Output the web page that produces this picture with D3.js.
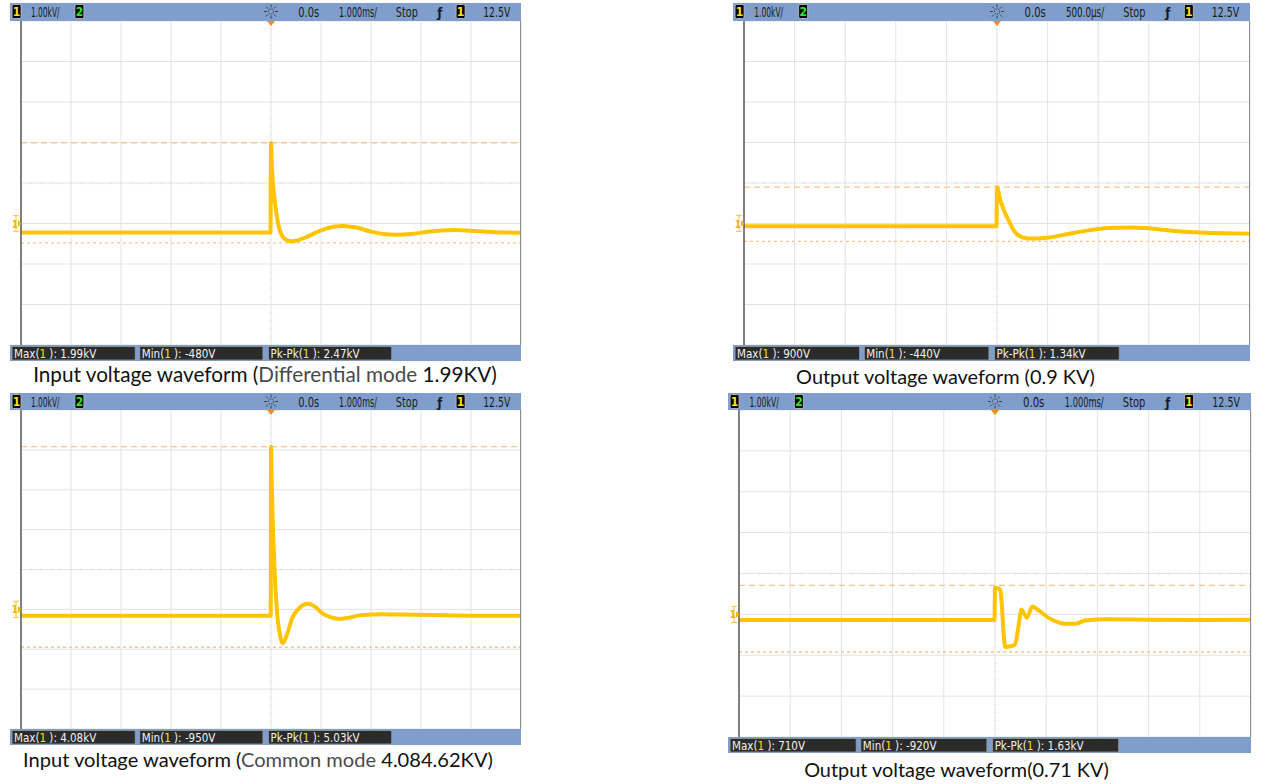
<!DOCTYPE html>
<html>
<head>
<meta charset="utf-8">
<script src="https://cdn.jsdelivr.net/npm/d3@7/dist/d3.min.js"></script>
<style>
  html, body { margin: 0; padding: 0; background: #ffffff; }
  svg { display: block; }
</style>
</head>
<body>
<svg id="chart" width="1261" height="784"></svg>
<script>
// ---------------- DATA ----------------
// Panel 1: input, differential mode (time in ms, voltage in kV)
const p1Time = [-5, -0.01, 0, 0.02, 0.05, 0.08, 0.12, 0.16, 0.22, 0.3, 0.42, 0.55, 0.75, 1.0, 1.25, 1.45, 1.7, 2.0, 2.25, 2.5, 2.8, 3.1, 3.4, 3.7, 4.0, 4.4, 5];
const p1Volt = [-0.22, -0.22, 1.99, 1.35, 0.85, 0.5, 0.15, -0.1, -0.3, -0.4, -0.44, -0.41, -0.31, -0.17, -0.08, -0.06, -0.1, -0.2, -0.26, -0.28, -0.26, -0.21, -0.17, -0.16, -0.18, -0.21, -0.23];
// Panel 2: output (0.9 kV)
const p2Time = [-2.5, -0.005, 0, 0.03, 0.06, 0.09, 0.13, 0.16, 0.2, 0.25, 0.32, 0.4, 0.5, 0.7, 0.9, 1.1, 1.3, 1.5, 1.7, 2.0, 2.25, 2.5];
const p2Volt = [-0.07, -0.07, 0.9, 0.6, 0.38, 0.2, 0.0, -0.15, -0.27, -0.34, -0.37, -0.37, -0.35, -0.26, -0.17, -0.11, -0.1, -0.12, -0.17, -0.22, -0.24, -0.25];
// Panel 3: input, common mode
const p3Time = [-5, -0.005, 0, 0.015, 0.03, 0.05, 0.066, 0.09, 0.13, 0.18, 0.23, 0.3, 0.43, 0.58, 0.73, 0.88, 1.03, 1.2, 1.37, 1.55, 1.77, 2.0, 2.23, 2.6, 3.5, 4.2, 5];
const p3Volt = [-0.16, -0.16, 4.08, 3.2, 2.4, 1.7, 1.15, 0.5, -0.2, -0.65, -0.85, -0.7, -0.2, 0.05, 0.14, 0.07, -0.1, -0.2, -0.24, -0.21, -0.15, -0.13, -0.12, -0.13, -0.15, -0.16, -0.16];
// Panel 4: output (0.71 kV)
const p4Time = [-5, -0.01, 0, 0.05, 0.1, 0.13, 0.17, 0.2, 0.3, 0.38, 0.42, 0.47, 0.52, 0.57, 0.62, 0.73, 0.85, 1.04, 1.2, 1.37, 1.57, 1.76, 2.2, 3, 4, 5];
const p4Volt = [-0.14, -0.14, 0.66, 0.64, 0.6, 0.3, -0.5, -0.8, -0.78, -0.75, -0.6, -0.2, 0.12, 0.02, -0.08, 0.19, 0.1, -0.08, -0.18, -0.23, -0.23, -0.15, -0.12, -0.13, -0.14, -0.13];

// marker (cursor) levels, kV
const markerMax = [1.99, 0.9, 4.08, 0.71];
const markerMin = [-0.48, -0.44, -0.95, -0.92];

// time window (ms) of each panel
const timeStart = [-5, -2.5, -5, -5];
const timeEnd = [5, 2.5, 5, 5];
// vertical window (kV)
const voltDomain = [-3, 5];

// header texts
const vScaleLabel = ["1.00kV/", "1.00kV/", "1.00kV/", "1.00kV/"];
const delayLabel = ["0.0s", "0.0s", "0.0s", "0.0s"];
const timebaseLabel = ["1.000ms/", "500.0µs/", "1.000ms/", "1.000ms/"];
const levelLabel = ["12.5V", "12.5V", "12.5V", "12.5V"];

// measurement labels
const measMax = ["1.99kV", "900V", "4.08kV", "710V"];
const measMin = ["-480V", "-440V", "-950V", "-920V"];
const measPkPk = ["2.47kV", "1.34kV", "5.03kV", "1.63kV"];

// captions: [prefix, grey part, suffix]
const captionPre = ["Input voltage waveform (", "Output voltage waveform (0.9 KV)", "Input voltage waveform (", "Output voltage waveform(0.71 KV)"];
const captionGrey = ["Differential mode", "", "Common mode", ""];
const captionPost = [" 1.99KV)", "", " 4.084.62KV)", ""];

// ---------------- LAYOUT ----------------
const layout = [
  { hx: 10,  right: 521,  top: 3,   plotTop: 21,  plotBottom: 345, capX: 265,   capY: 382, capW: 464 },
  { hx: 733, right: 1250, top: 3,   plotTop: 21,  plotBottom: 345, capX: 945.5, capY: 384, capW: 299 },
  { hx: 10,  right: 521,  top: 393, plotTop: 410, plotBottom: 729, capX: 258,   capY: 767, capW: 470 },
  { hx: 728, right: 1251, top: 393, plotTop: 410, plotBottom: 737, capX: 956.5, capY: 777, capW: 305 }
];

const times = [p1Time, p2Time, p3Time, p4Time];
const volts = [p1Volt, p2Volt, p3Volt, p4Volt];

const BAR = "#7f9ecc";
const TRACE = "#ffc400";
const DASH = "#fbc38f";
const GRID = "#e3e3e3";
const headFont = "'Liberation Sans Narrow','DejaVu Sans Condensed','Arial Narrow',Arial,sans-serif";
const capFont = "Lato,'Open Sans','Noto Sans',sans-serif";

const svg = d3.select("#chart");

function chBox(g, x, y, label, color) {
  g.append("rect").attr("x", x).attr("y", y).attr("width", 9).attr("height", 14)
    .attr("rx", 1.5).attr("fill", "#000").attr("stroke", "#c8c8c8").attr("stroke-width", 0.8);
  g.append("text").attr("x", x + 4.5).attr("y", y + 11.5).attr("text-anchor", "middle")
    .attr("font-family", headFont).attr("font-size", 12).attr("font-weight", "bold")
    .attr("fill", color).text(label);
}

// horizontally condensed text (scaled group), keeps glyph height
function headText(g, x, y, str, len, size) {
  const grp = g.append("g").attr("transform", `translate(${x},${y})`);
  const t = grp.append("text").attr("x", 0).attr("y", 0).attr("font-family", headFont)
    .attr("font-size", size || 14).attr("fill", "#1a1a1a").text(str);
  const nat = t.node().getComputedTextLength();
  if (len && nat > 0) grp.attr("transform", `translate(${x},${y}) scale(${len / nat},1)`);
  return t;
}

layout.forEach((L, i) => {
  const g = svg.append("g");
  const w = L.right - L.hx;
  const px = L.hx + 11;

  const x = d3.scaleLinear().domain([timeStart[i], timeEnd[i]]).range([px, L.right]);
  const y = d3.scaleLinear().domain(voltDomain).range([L.plotBottom, L.plotTop]);

  // plot background
  g.append("rect").attr("x", px).attr("y", L.plotTop).attr("width", L.right - px)
    .attr("height", L.plotBottom - L.plotTop).attr("fill", "#fff");

  // grid
  const xt = d3.range(11).map(k => timeStart[i] + k * (timeEnd[i] - timeStart[i]) / 10);
  const yt = d3.range(voltDomain[0], voltDomain[1] + 1, 1);
  g.selectAll(".vg").data(xt).enter().append("line")
    .attr("x1", d => x(d)).attr("x2", d => x(d)).attr("y1", L.plotTop).attr("y2", L.plotBottom)
    .attr("stroke", GRID).attr("stroke-width", 1);
  g.selectAll(".hg").data(yt).enter().append("line")
    .attr("x1", px).attr("x2", L.right).attr("y1", d => y(d)).attr("y2", d => y(d))
    .attr("stroke", GRID).attr("stroke-width", 1);

  // minor ticks on centre lines
  const xMid = (timeStart[i] + timeEnd[i]) / 2;
  const yMid = (voltDomain[0] + voltDomain[1]) / 2;
  const xStep = (timeEnd[i] - timeStart[i]) / 50;
  const xm = d3.range(51).map(k => timeStart[i] + k * xStep);
  g.selectAll(".xm").data(xm).enter().append("line")
    .attr("x1", d => x(d)).attr("x2", d => x(d)).attr("y1", y(yMid) - 1.5).attr("y2", y(yMid) + 1.5)
    .attr("stroke", "#e6e6e6");
  const ym = d3.range(41).map(k => voltDomain[0] + k * 0.2);
  g.selectAll(".ym").data(ym).enter().append("line")
    .attr("x1", x(xMid) - 1.5).attr("x2", x(xMid) + 1.5).attr("y1", d => y(d)).attr("y2", d => y(d))
    .attr("stroke", "#e6e6e6");

  // cursor markers
  g.append("line").attr("x1", px).attr("x2", L.right).attr("y1", y(markerMax[i])).attr("y2", y(markerMax[i]))
    .attr("stroke", DASH).attr("stroke-width", 1.3).attr("stroke-dasharray", "6,4");
  g.append("line").attr("x1", px).attr("x2", L.right).attr("y1", y(markerMin[i])).attr("y2", y(markerMin[i]))
    .attr("stroke", DASH).attr("stroke-width", 1.3).attr("stroke-dasharray", "3,3");

  // trace
  const pts = times[i].map((t, k) => [t, volts[i][k]]);
  const line = d3.line().x(d => x(d[0])).y(d => y(d[1])).curve(d3.curveMonotoneX);
  g.append("path").datum(pts).attr("d", line).attr("fill", "none")
    .attr("stroke", TRACE).attr("stroke-width", 4).attr("stroke-linejoin", "round").attr("stroke-linecap", "butt");

  // borders
  g.append("line").attr("x1", px).attr("x2", px).attr("y1", L.plotTop).attr("y2", L.plotBottom)
    .attr("stroke", "#5a5a5a").attr("stroke-width", 1.5);
  g.append("line").attr("x1", L.right - 0.5).attr("x2", L.right - 0.5).attr("y1", L.plotTop).attr("y2", L.plotBottom)
    .attr("stroke", "#8a8a8a").attr("stroke-width", 1);

  // ground marker
  const gy = y(0);
  const gm = g.append("g");
  gm.append("line").attr("x1", L.hx + 6).attr("x2", L.hx + 6).attr("y1", gy - 8).attr("y2", gy + 8)
    .attr("stroke", "#f6c86a").attr("stroke-width", 1.2);
  gm.append("line").attr("x1", L.hx + 3).attr("x2", L.hx + 9).attr("y1", gy - 8).attr("y2", gy - 8)
    .attr("stroke", "#f6c86a").attr("stroke-width", 1.2);
  gm.append("line").attr("x1", L.hx + 3).attr("x2", L.hx + 9).attr("y1", gy + 8).attr("y2", gy + 8)
    .attr("stroke", "#f6c86a").attr("stroke-width", 1.2);
  gm.append("text").attr("x", L.hx + 5).attr("y", gy + 4).attr("text-anchor", "middle")
    .attr("font-family", headFont).attr("font-size", 10).attr("font-weight", "bold")
    .attr("fill", "#f2b500").text("1");
  gm.append("path").attr("d", `M${L.hx + 8},${gy - 3.5} L${L.hx + 11.5},${gy} L${L.hx + 8},${gy + 3.5} Z`)
    .attr("fill", "#f2b500");

  // header bar
  g.append("rect").attr("x", L.hx).attr("y", L.top).attr("width", w).attr("height", L.plotTop - L.top)
    .attr("fill", BAR);
  const hy = L.top + 1.5;
  const tb = L.top + 13.5;
  chBox(g, L.hx + 0.004 * w, hy, "1", "#ffe600");
  headText(g, L.hx + 0.041 * w, tb, vScaleLabel[i], 0.056 * w);
  chBox(g, L.hx + 0.127 * w, hy, "2", "#2ee62e");
  // sun icon
  const sx = x(0), sy = L.top + 8.5;
  const sun = g.append("g").attr("stroke", "#333").attr("stroke-width", 0.9).attr("fill", "none");
  sun.append("circle").attr("cx", sx).attr("cy", sy).attr("r", 2.6).attr("stroke-dasharray", "1.5,1");
  d3.range(8).forEach(k => {
    const a = k * Math.PI / 4;
    sun.append("line").attr("x1", sx + Math.cos(a) * 4.2).attr("y1", sy + Math.sin(a) * 4.2)
      .attr("x2", sx + Math.cos(a) * 7).attr("y2", sy + Math.sin(a) * 7);
  });
  headText(g, L.hx + 0.564 * w, tb, delayLabel[i], 0.041 * w);
  headText(g, L.hx + 0.644 * w, tb, timebaseLabel[i], 0.074 * w);
  headText(g, L.hx + 0.755 * w, tb, "Stop", 0.043 * w);
  g.append("text").attr("x", L.hx + 0.836 * w).attr("y", tb).attr("font-family", headFont)
    .attr("font-size", 13).attr("font-weight", "bold").attr("fill", "#1a1a1a").text("ƒ");
  chBox(g, L.hx + 0.873 * w, hy, "1", "#ffe600");
  headText(g, L.hx + 0.926 * w, tb, levelLabel[i], 0.053 * w);

  // trigger marker
  g.append("path").attr("d", `M${x(0) - 4},${L.plotTop} L${x(0) + 4},${L.plotTop} L${x(0)},${L.plotTop + 5} Z`)
    .attr("fill", "#f5891f");

  // bottom bar
  g.append("rect").attr("x", L.hx).attr("y", L.plotBottom).attr("width", w).attr("height", 16).attr("fill", BAR);
  const meas = [["Max(", measMax[i]], ["Min(", measMin[i]], ["Pk-Pk(", measPkPk[i]]];
  const boxX = [0.004, 0.254, 0.506];
  meas.forEach((m, k) => {
    const bx = L.hx + boxX[k] * w;
    g.append("rect").attr("x", bx).attr("y", L.plotBottom + 1.5).attr("width", 0.241 * w).attr("height", 13.5)
      .attr("fill", "#2b2b2b").attr("stroke", "#9a9a9a").attr("stroke-width", 0.8);
    const t = g.append("text").attr("x", bx + 2).attr("y", L.plotBottom + 12.5)
      .attr("font-family", headFont).attr("font-size", 11.5).attr("fill", "#f2f2f2");
    t.append("tspan").text(m[0]);
    t.append("tspan").attr("fill", "#ffe600").text("1");
    t.append("tspan").text(" ): " + m[1]);
  });

  // caption
  const cap = g.append("text").attr("x", L.capX).attr("y", L.capY).attr("text-anchor", "middle")
    .attr("font-family", capFont).attr("font-size", 18).attr("fill", "#111");
  cap.append("tspan").text(captionPre[i]);
  if (captionGrey[i]) cap.append("tspan").attr("fill", "#4a4a4a").text(captionGrey[i]);
  if (captionPost[i]) cap.append("tspan").text(captionPost[i]);
  const cw = cap.node().getComputedTextLength();
  if (cw > 0) cap.attr("font-size", 18 * L.capW / cw);
});
</script>
</body>
</html>
